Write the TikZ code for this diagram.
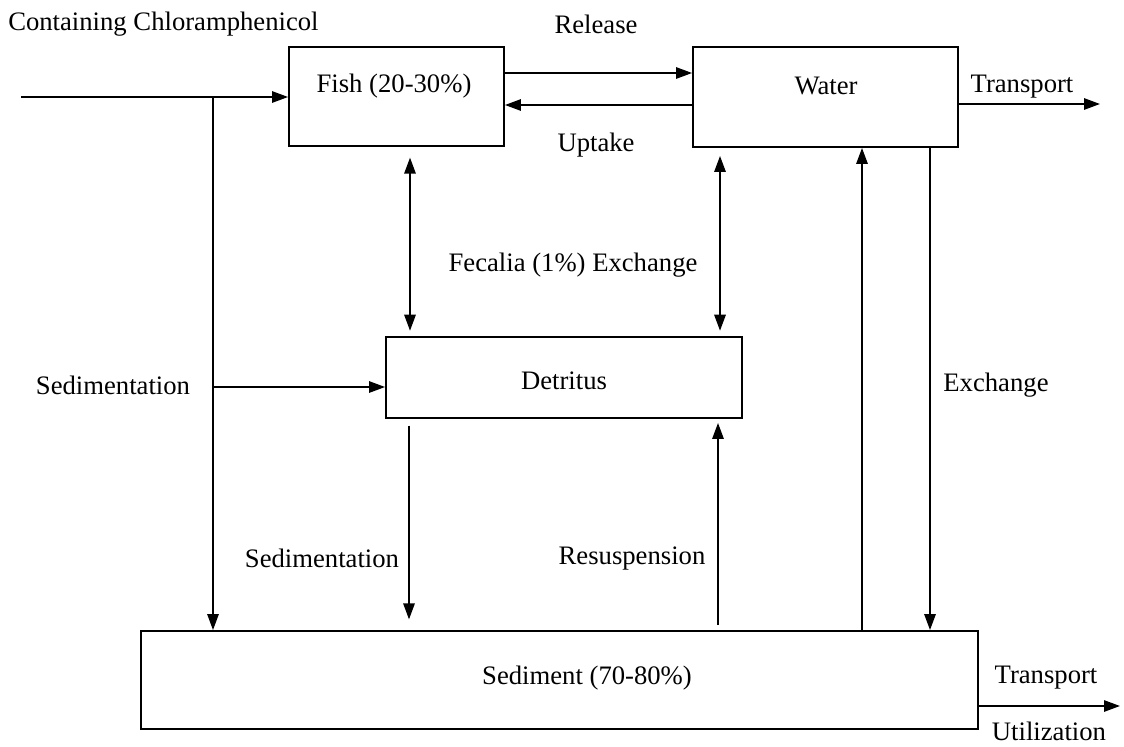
\documentclass[tikz,border=0pt]{standalone}
\usepackage{fontspec}
\setmainfont{Liberation Serif}
\usetikzlibrary{arrows.meta}
\begin{document}
\begin{tikzpicture}[x=0.75pt,y=-0.75pt,
  every node/.style={font=\fontsize{20}{24}\selectfont, inner sep=0pt},
  box/.style={draw, line width=1.4pt},
  arr/.style={line width=1.4pt, -{Triangle[length=12pt,width=8.5pt]}},
  darr/.style={line width=1.4pt, {Triangle[length=12pt,width=8.5pt]}-{Triangle[length=12pt,width=8.5pt]}}]
\useasboundingbox (0,0) rectangle (1124,746);
% boxes
\node[box, minimum width=161.25pt, minimum height=74.25pt] (fish) at (396.5,96.5) {};
\node[box, minimum width=198.75pt, minimum height=75pt] (water) at (825.5,97) {};
\node[box, minimum width=267pt, minimum height=60.75pt] (det) at (564,377.5) {};
\node[box, minimum width=627.75pt, minimum height=73.5pt] (sed) at (559.5,680) {};
% box texts
\node (fishT) at (394,86) {Fish (20-30\%)};
\node (waterT) at (826,86) {Water};
\node (detT) at (564,381) {Detritus};
\node (sedT) at (587,678) {Sediment (70-80\%)};
% labels
\node[anchor=west] (cont) at (8,24) {Containing Chloramphenicol};
\node (rel) at (596,24) {Release};
\node (upt) at (596,145) {Uptake};
\node (tr1) at (1022,87) {Transport};
\node (fec) at (573,265) {Fecalia (1\%) Exchange};
\node (sedl) at (113,385) {Sedimentation};
\node (exl) at (996,385) {Exchange};
\node (sed2) at (322,558) {Sedimentation};
\node (resl) at (632,559) {Resuspension};
\node (tr2) at (1046,678) {Transport};
\node (util) at (1049,731) {Utilization};
% coordinates
\coordinate (in) at (21,97);
\coordinate (j1) at (213,97);
\coordinate (j2) at (213,387);
\coordinate (out1) at (1100,104);
\coordinate (out2) at (1120,706);
% connectors
\draw[arr] (in) -- (in -| fish.west);
\draw[arr] (j1) -- (j1 |- sed.north);
\draw[arr] (j2) -- (j2 -| det.west);
\draw[arr] (fish.east |- 0,73) -- (water.west |- 0,73);
\draw[arr] (water.west |- 0,105) -- (fish.east |- 0,105);
\draw[arr] (water.east |- out1) -- (out1);
\draw[darr, shorten <=8pt, shorten >=4pt] (fish.south -| 410,0) -- (det.north -| 410,0);
\draw[darr, shorten <=6pt, shorten >=4pt] (water.south -| 720,0) -- (det.north -| 720,0);
\draw[arr, shorten <=5pt, shorten >=8pt] (det.south -| 409,0) -- (sed.north -| 409,0);
\draw[arr, shorten <=4pt, shorten >=3pt] (sed.north -| 718,0) -- (det.south -| 718,0);
\draw[arr] (sed.north -| 862,0) -- (water.south -| 862,0);
\draw[arr] (water.south -| 930,0) -- (sed.north -| 930,0);
\draw[arr] (sed.east |- out2) -- (out2);
\end{tikzpicture}
\end{document}
